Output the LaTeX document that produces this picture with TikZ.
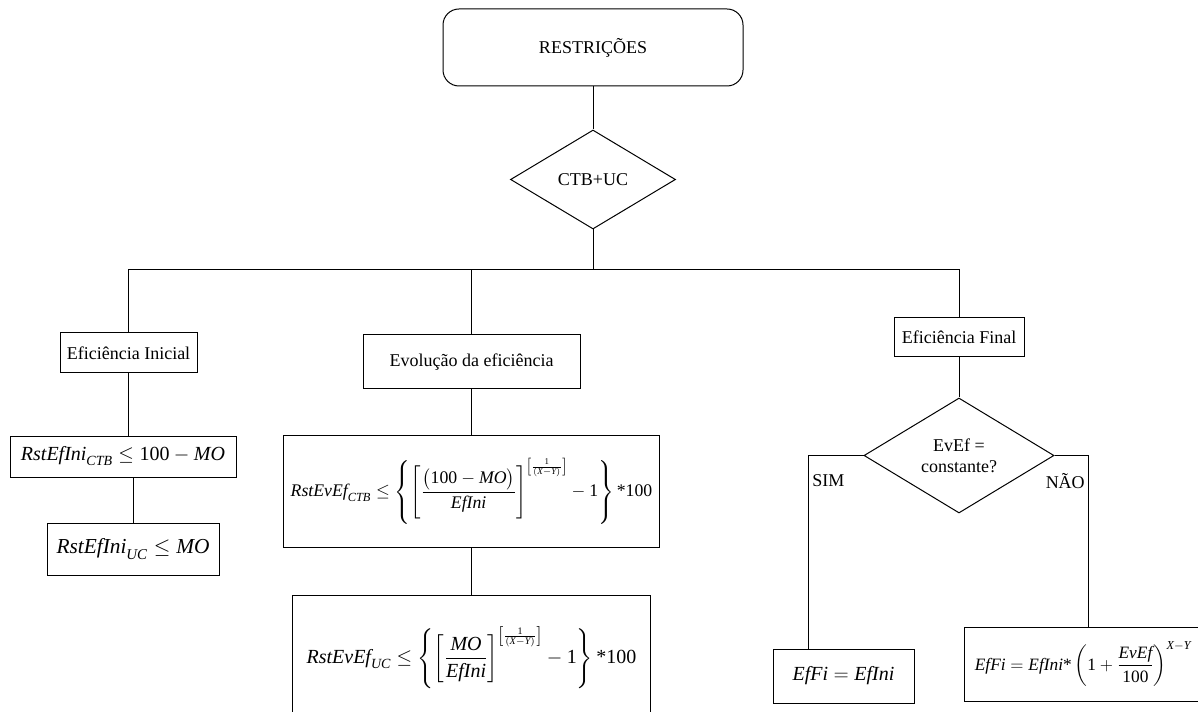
\RequirePackage{fix-cm}
\documentclass[tikz,border=0pt]{standalone}
\usepackage{amsmath,amssymb}
\usepackage{fontspec}
\setmainfont{Liberation Serif}
\usetikzlibrary{positioning,shapes.geometric,calc}
\newcommand{\vi}[1]{\textit{#1}}
\newcommand{\nr}[1]{\textup{#1}}

\begin{document}
\begin{tikzpicture}[x=0.75pt,y=-0.75pt,
  caixa/.style={draw,line width=0.75pt,inner sep=0pt,font=\fontsize{13.5}{16}\selectfont},
  formula/.style={caixa,font=\fontsize{16}{19}\selectfont},
  decisao/.style={caixa,diamond,align=center},
  rotulo/.style={inner sep=0pt,font=\fontsize{13.5}{16}\selectfont},
  liga/.style={line width=0.75pt}]
  \useasboundingbox (0,0) rectangle (1198,712);
  % topo
  \node[caixa,rounded corners=12pt,minimum width=225pt,minimum height=57.75pt] (restr) at (593,47.5) {RESTRIÇÕES};
  \node[decisao,minimum width=123.75pt,minimum height=74.25pt] (ctb) at (593,179.5) {CTB+UC};
  \coordinate (bus) at (593,270);
  % três ramos
  \node[caixa,minimum width=102.75pt,minimum height=30pt] (einic) at (128.5,353) {Eficiência Inicial};
  \node[caixa,minimum width=162.75pt,minimum height=40.5pt] (evol) at (471.5,362) {Evolução da eficiência};
  \node[caixa,minimum width=97.5pt,minimum height=29.25pt] (efin) at (959,337.5) {Eficiência Final};
  % eficiência inicial
  \node[formula,font=\fontsize{15}{18}\selectfont,minimum width=169.5pt,minimum height=30.75pt] (rctb) at (123,456.5)
    {$\vi{RstEfIni}_{\vi{CTB}} \le \nr{100} - \vi{MO}$};
  \node[formula,minimum width=129pt,minimum height=39pt] (ruc) at (133,549)
    {$\vi{RstEfIni}_{\vi{UC}} \le \vi{MO}$};
  % evolução da eficiência
  \node[formula,font=\fontsize{13.3}{16}\selectfont,minimum width=282pt,minimum height=84pt] (evctb) at (471.5,491)
    {$\vi{RstEvEf}_{\vi{CTB}} \le \left\{ \left[ \dfrac{\bigl(\nr{100}-\vi{MO}\bigr)}{\vi{EfIni}} \right]^{\left[\frac{\nr{1}}{(\vi{X}-\vi{Y})}\right]} - \nr{1} \right\}\nr{*100}$};
  \node[formula,font=\fontsize{15}{18}\selectfont,minimum width=268.5pt,minimum height=93.75pt] (evuc) at (471.5,657.5)
    {$\vi{RstEvEf}_{\vi{UC}} \le \left\{ \left[ \dfrac{\vi{MO}}{\vi{EfIni}} \right]^{\left[\frac{\nr{1}}{(\vi{X}-\vi{Y})}\right]} - \nr{1} \right\}\nr{*100}$};
  % eficiência final
  \node[decisao,minimum width=142.5pt,minimum height=86.25pt] (evef) at (959,455.5) {EvEf =\\constante?};
  \node[formula,font=\fontsize{15}{18}\selectfont,minimum width=105.75pt,minimum height=40.5pt] (effi1) at (843.5,676)
    {$\vi{EfFi} = \vi{EfIni}$};
  \node[formula,font=\fontsize{13}{16}\selectfont,minimum width=178.5pt,minimum height=55.5pt] (effi2) at (1083,664)
    {$\vi{EfFi} = \vi{EfIni}\nr{*}\left(\nr{1} + \dfrac{\vi{EvEf}}{\nr{100}}\right)^{\vi{X}-\vi{Y}}$};
  \node[rotulo,anchor=west] (sim) at (812,481) {SIM};
  \node[rotulo,anchor=east] (nao) at (1085,481) {NÃO};
  % ligações
  \draw[liga] (restr.south) -- (ctb.north);
  \draw[liga] (ctb.south) -- (bus);
  \draw[liga] (einic.north) -- (einic.north |- bus) -- (efin.north |- bus) -- (efin.north);
  \draw[liga] (evol.north) -- (evol.north |- bus);
  \draw[liga] (einic.south) -- (einic.south |- rctb.north);
  \draw[liga] (ruc.north) -- (ruc.north |- rctb.south);
  \draw[liga] (evol.south) -- (evctb.north);
  \draw[liga] (evctb.south) -- (evuc.north);
  \draw[liga] (efin.south) -- (evef.north);
  \draw[liga] (evef.west) -| ($(effi1.north west)+(36,0)$);
  \draw[liga] (evef.east) -| ($(effi2.north west)+(125,0)$);
\end{tikzpicture}
\end{document}
